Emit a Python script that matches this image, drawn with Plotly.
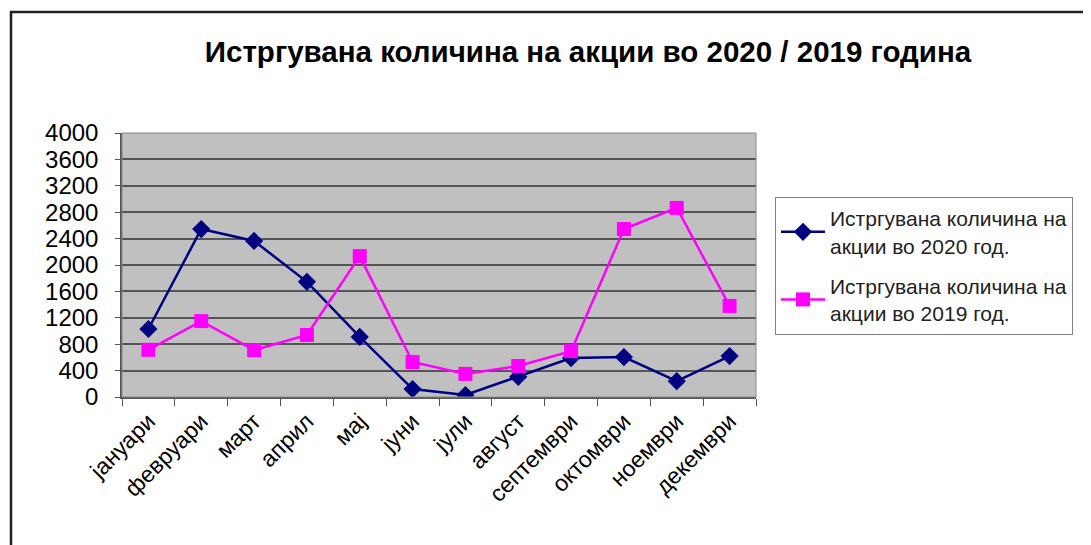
import plotly.graph_objects as go

months = ["јануари", "февруари", "март", "април", "мај", "јуни", "јули",
          "август", "септември", "октомври", "ноември", "декември"]
vals_2020 = [1030, 2545, 2365, 1745, 910, 120, 30, 305, 590, 605, 240, 620]
vals_2019 = [715, 1150, 710, 940, 2135, 530, 350, 470, 695, 2545, 2865, 1380]
name_2020 = "Истргувана количина на<br>акции во 2020 год."
name_2019 = "Истргувана количина на<br>акции во 2019 год."
title_text = "Истргувана количина на акции во 2020 / 2019 година"
y_ticks = list(range(0, 4001, 400))

FONT = "Liberation Sans, Arial, sans-serif"

fig = go.Figure()
fig.add_trace(go.Scatter(
    x=months, y=vals_2020, name=name_2020, mode="lines+markers",
    legendgroup="g2020",
    line=dict(color="#000080", width=2.5),
    marker=dict(symbol="diamond", size=14, color="#000080"),
))
fig.add_trace(go.Scatter(
    x=months, y=vals_2019, name=name_2019, mode="lines+markers",
    legendgroup="g2019",
    line=dict(color="#ff00ff", width=2.5),
    marker=dict(symbol="square", size=14, color="#ff00ff"),
))

OFF = 8  # default page body margin
W, H = 1091 - OFF, 545 - OFF
L, R, T, B = 122 - OFF, 756 - OFF, 133 - OFF, 397 - OFF
pw, ph = R - L, B - T

def px(x):
    return (x - OFF - L) / pw

def py(y):
    return (B - (y - OFF)) / ph

fig.update_layout(
    width=W, height=H,
    margin=dict(l=L, r=W - R, t=T, b=H - B, pad=0),
    paper_bgcolor="white",
    plot_bgcolor="#c0c0c0",
    font=dict(family=FONT, color="black"),
    title=dict(text="<b>" + title_text + "</b>", x=px(588), xanchor="center",
               xref="paper", y=1 - (52 - OFF) / H, yanchor="middle",
               font=dict(size=29.5, family=FONT, color="black")),
    showlegend=True,
    legend=dict(x=px(775), y=py(197), xanchor="left", yanchor="top",
                bgcolor="white", bordercolor="#808080", borderwidth=1,
                font=dict(size=21, family=FONT, color="#222"),
                tracegroupgap=10, itemwidth=44),
    xaxis=dict(type="category", range=[-0.5, 11.5], tickson="boundaries",
               ticks="outside", ticklen=7, tickcolor="#555",
               tickangle=-45, tickfont=dict(size=23, family=FONT, color="black"),
               showline=True, linecolor="#555", linewidth=1.5,
               showgrid=False, zeroline=False, fixedrange=True),
    yaxis=dict(range=[0, 4000], tickvals=y_ticks, ticks="outside", ticklen=5,
               tickcolor="#555", tickfont=dict(size=24, family=FONT, color="black"),
               ticklabelstandoff=12,
               showline=True, linecolor="#555", linewidth=1.5,
               showgrid=True, gridcolor="#555", gridwidth=1.5,
               zeroline=False, fixedrange=True),
    shapes=[
        dict(type="rect", xref="paper", yref="paper",
             x0=px(11), x1=px(1200), y0=py(12), y1=py(700),
             line=dict(color="#222", width=2.5), fillcolor="rgba(0,0,0,0)",
             layer="below"),
        dict(type="rect", xref="paper", yref="paper",
             x0=0, x1=1, y0=0, y1=1,
             line=dict(color="#888", width=1), fillcolor="rgba(0,0,0,0)"),
    ],
)

fig.write_html("out.html")
